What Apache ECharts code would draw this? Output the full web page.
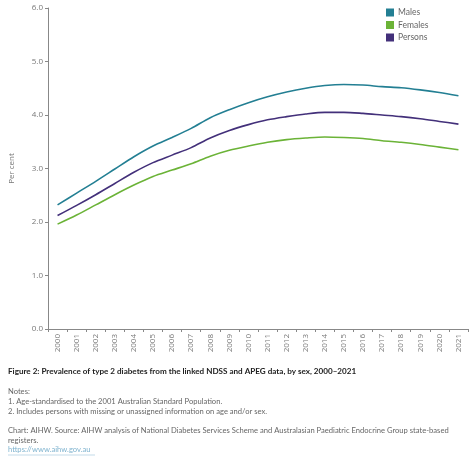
<!DOCTYPE html>
<html><head><meta charset="utf-8">
<script src="https://cdn.jsdelivr.net/npm/echarts@6/dist/echarts.min.js"></script>
<style>html,body{margin:0;padding:0;background:#fff}#c{width:474px;height:474px}</style>
</head><body><div id="c"></div>
<script>
const years = ['2000','2001','2002','2003','2004','2005','2006','2007','2008','2009','2010','2011','2012','2013','2014','2015','2016','2017','2018','2019','2020','2021'];
const males = [2.32,2.54,2.76,2.99,3.22,3.42,3.58,3.75,3.95,4.10,4.23,4.34,4.43,4.50,4.55,4.57,4.56,4.53,4.51,4.47,4.42,4.36];
const females = [1.96,2.13,2.32,2.51,2.69,2.85,2.97,3.09,3.23,3.34,3.42,3.49,3.54,3.57,3.59,3.58,3.56,3.52,3.49,3.45,3.40,3.35];
const persons = [2.12,2.31,2.51,2.72,2.93,3.11,3.25,3.39,3.57,3.71,3.82,3.91,3.97,4.02,4.05,4.05,4.03,4.00,3.97,3.93,3.88,3.83];
const yTicks = [0,1,2,3,4,5,6];
const seriesNames = ['Males','Females','Persons'];
const colors = ['#237f93','#6bb337','#43307a'];

const chart = echarts.init(document.getElementById('c'), null, {renderer:'canvas'});
const font = 'Open Sans';
const mk = (name, data, color) => ({
  name, type:'line', data, smooth:0.3, symbol:'none',
  lineStyle:{color, width:1.6}, itemStyle:{color}
});
const txt = (top, text, fill) => ({type:'text', left:8, top, style:{text, font:'7.6px Lato', fill: fill || '#666'}});
chart.setOption({
  animation:false,
  textStyle:{fontFamily:font},
  legend:{
    orient:'vertical', left:386, top:8, padding:0, itemWidth:8, itemHeight:8, itemGap:3.5,
    icon:'rect', textStyle:{fontSize:8.5, color:'#666', fontFamily:'Lato', padding:[0,0,0,-1]},
    data:seriesNames
  },
  grid:{left:48, right:6, top:8, bottom:145, containLabel:false},
  xAxis:{
    type:'category', data:years, boundaryGap:true,
    axisLine:{lineStyle:{color:'#888', width:1}},
    axisTick:{show:true, length:3, lineStyle:{color:'#888'}},
    axisLabel:{rotate:90, fontSize:8, color:'#777', margin:5, interval:0}
  },
  yAxis:{
    type:'value', min:yTicks[0], max:yTicks[yTicks.length-1], interval:1,
    name:'Per cent', nameLocation:'middle', nameGap:32, nameRotate:90,
    nameTextStyle:{fontSize:8, color:'#777'},
    axisLine:{show:true, lineStyle:{color:'#888', width:1}},
    axisTick:{show:true, length:3, lineStyle:{color:'#888'}},
    axisLabel:{fontSize:8, color:'#777', margin:5, formatter:v=>v.toFixed(1)},
    splitLine:{show:false}
  },
  series:[mk('Males',males,colors[0]), mk('Females',females,colors[1]), mk('Persons',persons,colors[2])],
  graphic:[
    {type:'text', left:8, top:367.5, style:{text:'Figure 2: Prevalence of type 2 diabetes from the linked NDSS and APEG data, by sex, 2000–2021', font:'bold 8.1px Lato', fill:'#222'}},
    txt(388, 'Notes:'),
    txt(398, '1. Age-standardised to the 2001 Australian Standard Population.'),
    txt(407.5, '2. Includes persons with missing or unassigned information on age and/or sex.'),
    txt(426.5, 'Chart: AIHW. Source: AIHW analysis of National Diabetes Services Scheme and Australasian Paediatric Endocrine Group state-based'),
    txt(436.5, 'registers.'),
    txt(446, 'https://www.aihw.gov.au', '#7fb3cf'),
    {type:'line', shape:{x1:8,y1:455,x2:95,y2:455}, style:{stroke:'#9cc4da', lineWidth:0.6}}
  ]
});
</script></body></html>
